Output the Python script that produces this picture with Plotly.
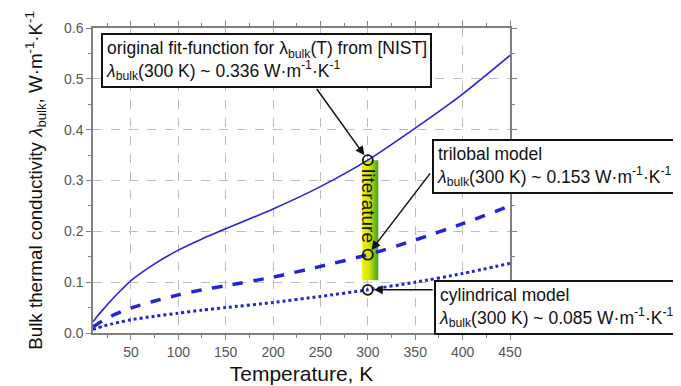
import plotly.graph_objects as go

# Data
temperature = [10, 15, 20, 30, 40, 50, 75, 100, 125, 150, 200, 250, 300, 350, 400, 450]
nist_fit = [0.022, 0.034, 0.045, 0.066, 0.085, 0.103, 0.136, 0.163, 0.185, 0.205, 0.244, 0.288, 0.340, 0.403, 0.470, 0.546]
trilobal = [0.012, 0.018, 0.024, 0.034, 0.042, 0.049, 0.063, 0.075, 0.085, 0.093, 0.110, 0.131, 0.154, 0.183, 0.215, 0.250]
cylindrical = [0.007, 0.010, 0.013, 0.018, 0.022, 0.026, 0.033, 0.039, 0.045, 0.050, 0.060, 0.072, 0.085, 0.100, 0.117, 0.137]

marker_T = [300, 300, 300]
marker_val = [0.340, 0.154, 0.085]

lit_T = [294, 311]
lit_range = [0.104, 0.340]

x_ticks = [50, 100, 150, 200, 250, 300, 350, 400, 450]
y_ticks = [0.0, 0.1, 0.2, 0.3, 0.4, 0.5, 0.6]

BLUE = "#2424d6"
FONT = "Arial, Liberation Sans, sans-serif"

fig = go.Figure()

# literature band with horizontal yellow->green gradient
fig.add_trace(go.Scatter(
    x=[lit_T[0], lit_T[1], lit_T[1], lit_T[0], lit_T[0]],
    y=[lit_range[0], lit_range[0], lit_range[1], lit_range[1], lit_range[0]],
    mode="lines", line=dict(width=0), fill="toself",
    fillgradient=dict(type="horizontal",
                      colorscale=[[0, "#f4f400"], [0.45, "#d0e400"], [1, "#3aa41e"]]),
    hoverinfo="skip", showlegend=False))

line_shape = dict(shape="spline", smoothing=0.6)
fig.add_trace(go.Scatter(x=temperature, y=nist_fit, mode="lines",
                         line=dict(color=BLUE, width=1.6, **line_shape), showlegend=False))
fig.add_trace(go.Scatter(x=temperature, y=trilobal, mode="lines",
                         line=dict(color=BLUE, width=3.5, dash="dash", **line_shape), showlegend=False))
fig.add_trace(go.Scatter(x=temperature, y=cylindrical, mode="lines",
                         line=dict(color=BLUE, width=3, dash="dot", **line_shape), showlegend=False))
fig.add_trace(go.Scatter(x=marker_T, y=marker_val, mode="markers",
                         marker=dict(symbol="circle-open", size=10, color="#111",
                                     line=dict(width=1.8, color="#111")),
                         showlegend=False))

axis_common = dict(
    showline=True, linecolor="#808080", linewidth=1.5, mirror="ticks",
    ticks="outside", ticklen=5, tickcolor="#808080", tickwidth=1.2,
    showgrid=True, gridcolor="#bdbdbd", griddash="dash", gridwidth=1,
    zeroline=False, tickfont=dict(family=FONT, size=14, color="#555555"),
)

fig.update_xaxes(range=[10, 450], tickvals=x_ticks,
                 minor=dict(dtick=25, tick0=0, ticks="outside", ticklen=3, tickcolor="#808080", showgrid=False),
                 title=dict(text="Temperature, K", font=dict(family=FONT, size=21, color="#111"), standoff=8),
                 **axis_common)
fig.update_yaxes(range=[0, 0.6], tickvals=y_ticks, tickformat=".1f",
                 minor=dict(dtick=0.05, ticks="outside", ticklen=3, tickcolor="#808080", showgrid=False),
                 title=dict(text="Bulk thermal conductivity <i>λ</i><sub>bulk</sub>, W·m<sup>-1</sup>·K<sup>-1</sup>",
                            font=dict(family=FONT, size=18.8, color="#111"), standoff=16),
                 **axis_common)

box_style = dict(showarrow=False, xref="paper", yref="paper", align="left",
                 xanchor="left", yanchor="top", bgcolor="white",
                 bordercolor="#111", borderwidth=2, borderpad=3,
                 font=dict(family=FONT, size=17.5, color="#111"))

fig.add_annotation(x=0.019, y=0.982,
                   text="original fit-function for λ<sub>bulk</sub>(T) from [NIST]<br>"
                        "<i>λ</i><sub>bulk</sub>(300 K) ~ 0.336 W·m<sup>-1</sup>·K<sup>-1</sup>",
                   **box_style)
fig.add_annotation(x=0.812, y=0.635,
                   text="trilobal model<br>"
                        "<i>λ</i><sub>bulk</sub>(300 K) ~ 0.153 W·m<sup>-1</sup>·K<sup>-1</sup>",
                   **box_style)
fig.add_annotation(x=0.818, y=0.174,
                   text="cylindrical model<br>"
                        "<i>λ</i><sub>bulk</sub>(300 K) ~ 0.085 W·m<sup>-1</sup>·K<sup>-1</sup>",
                   **box_style)

arrow_style = dict(text="", showarrow=True, xref="x", yref="y", axref="x", ayref="y",
                   arrowhead=2, arrowsize=1.2, arrowwidth=1.5, arrowcolor="#111", standoff=6)
fig.add_annotation(x=marker_T[0], y=marker_val[0], ax=245, ay=0.483, **arrow_style)
fig.add_annotation(x=marker_T[1], y=marker_val[1], ax=367, ay=0.317, **arrow_style)
fig.add_annotation(x=marker_T[2], y=marker_val[2], ax=370, ay=marker_val[2], **arrow_style)

fig.add_annotation(x=300, y=0.250, text="literature", textangle=90, showarrow=False,
                   font=dict(family=FONT, size=19, color="#111"))

fig.update_layout(
    width=681, height=386,
    margin=dict(l=85, r=179, t=17, b=61),
    plot_bgcolor="white", paper_bgcolor="white",
)

fig.write_html("out.html")
